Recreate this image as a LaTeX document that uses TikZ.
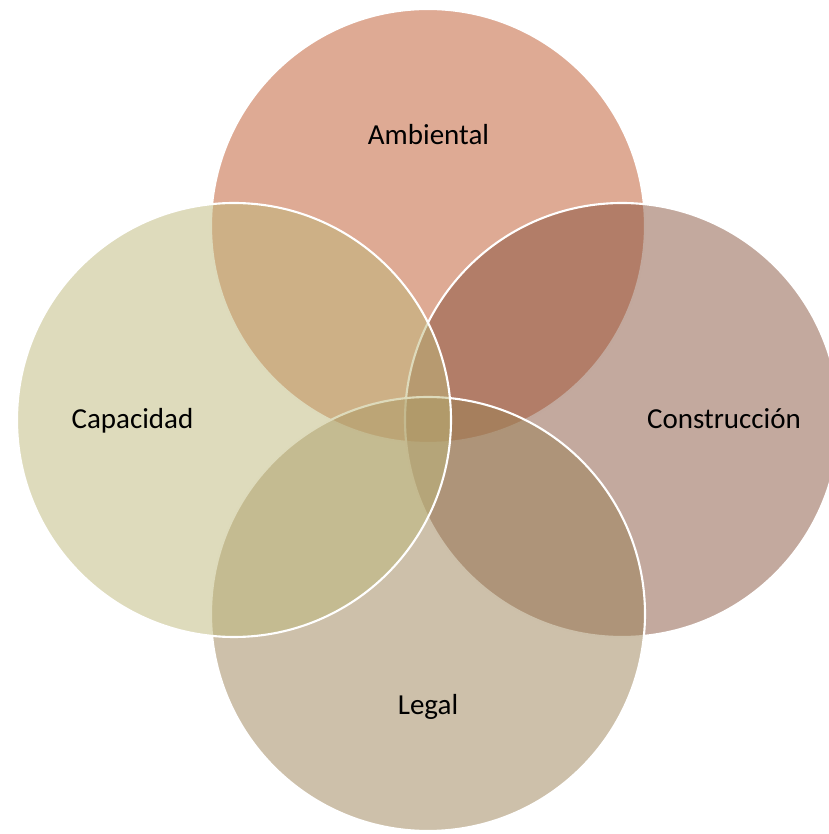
\documentclass[tikz,border=0pt]{standalone}
\usepackage{fontspec}
\setmainfont{Carlito}
\usepackage{xcolor}
\definecolor{ambientalred}{HTML}{BD5529}
\definecolor{construbrown}{HTML}{87533D}
\definecolor{legaltan}{HTML}{9B8155}
\definecolor{capaolive}{HTML}{BDB779}

\begin{document}
\begin{tikzpicture}[x=1cm,y=1cm]
  \tikzset{
    venn/.style={draw=white,line width=1.2pt,fill opacity=0.5},
    label/.style={font=\fontsize{16.5}{20}\selectfont,text=black,anchor=base},
  }
  \useasboundingbox (0,0) rectangle (16.58,16.68);
  \clip (0,0) rectangle (16.58,16.68);

  % Four circles, r=4.34, drawn top, right, bottom, left.
  \draw[venn,fill=ambientalred]  (8.56,12.16) circle (4.34);
  \draw[venn,fill=construbrown]  (12.44,8.28) circle (4.34);
  \draw[venn,fill=legaltan]      (8.56,4.40)  circle (4.34);
  \draw[venn,fill=capaolive]     (4.68,8.28)  circle (4.34);

  % Labels.
  \node[label] (ambiental)    at (8.57,13.78) {Ambiental};
  \node[label] (construccion) at (14.48,8.10) {Construcción};
  \node[label] (legal)        at (8.56,2.38)  {Legal};
  \node[label] (capacidad)    at (2.65,8.10)  {Capacidad};
\end{tikzpicture}
\end{document}
